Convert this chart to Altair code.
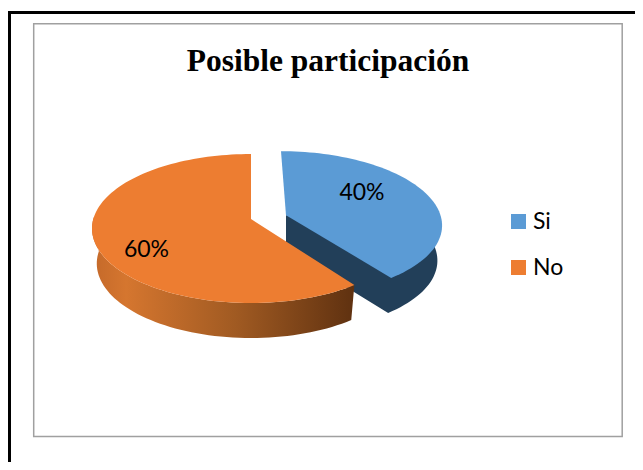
import math
import altair as alt
import pandas as pd

CATEGORIES = ["Si", "No"]
SHARES = [40, 60]
COLORS = ["#5B9BD5", "#ED7D31"]
TITLE = "Posible participación"

W, H = 627, 454
XS = alt.Scale(domain=[8, 8 + W], range=[0, W])
YS = alt.Scale(domain=[8 + H, 8], range=[H, 0])
PERSP = -0.1275
DEPTH = 35
BOTTOM_SCALE = 0.97
BOTTOM_SCALE_FRONT = 0.97


def project(theta, g, scale=1.0, drop=0.0):
    t = math.radians(theta)
    x0, y0 = math.sin(t), -math.cos(t)
    den = 1 + PERSP * y0
    xp = x0 * math.sqrt(1 - PERSP ** 2) / den
    yp = (y0 + PERSP) / den
    return (g["cx"] + g["rx"] * scale * xp + g["skew"] * yp,
            g["cy"] + g["ry"] * yp + drop)


def arc(start, end, g, scale=1.0, drop=0.0):
    n = max(2, int(abs(end - start) / 2))
    return [project(start + (end - start) * i / n, g, scale, drop) for i in range(n + 1)]


def frame(points):
    return pd.DataFrame({"x": [p[0] for p in points], "y": [p[1] for p in points],
                         "i": list(range(len(points)))})


split = 360 * SHARES[0] / sum(SHARES)
blue = dict(cx=286, cy=223.2, rx=156, ry=72, skew=5)
orange = dict(cx=251, cy=228.5, rx=159, ry=74.5, skew=0)
apex_b = (blue["cx"], project(0, blue)[1] + 64)
apex_o = (orange["cx"], 219)

top_b = frame([apex_b] + arc(0, split, blue)).assign(cat=CATEGORIES[0])
top_o = frame([apex_o] + arc(split, 360, orange)).assign(cat=CATEGORIES[1])
wall_b = frame([apex_b, (apex_b[0], apex_b[1] + DEPTH)]
               + arc(split, 88, blue, BOTTOM_SCALE, DEPTH)
               + arc(88, split, blue)[:1])
wall_o = frame(arc(split, 272, orange) + arc(272, split, orange, BOTTOM_SCALE_FRONT, DEPTH))


def poly(df, **mark):
    return alt.Chart(df).mark_line(strokeWidth=0, **mark).encode(
        x=alt.X("x:Q", scale=XS, axis=None),
        y=alt.Y("y:Q", scale=YS, axis=None),
        order="i:Q",
    )


wall_grad = alt.Gradient(
    gradient="linear", x1=0, x2=1, y1=0, y2=0,
    stops=[
        alt.GradientStop(offset=0, color="#C4692A"),
        alt.GradientStop(offset=0.13, color="#D5762F"),
        alt.GradientStop(offset=0.55, color="#A05A22"),
        alt.GradientStop(offset=1, color="#5F3110"),
    ],
)

back_wall = poly(wall_b, fill="#223F59")
front_wall = poly(wall_o, fill=wall_grad)

tops = alt.Chart(pd.concat([top_b, top_o])).mark_line(filled=True, strokeWidth=0).encode(
    x=alt.X("x:Q", scale=XS, axis=None),
    y=alt.Y("y:Q", scale=YS, axis=None),
    order="i:Q",
    color=alt.Color(
        "cat:N",
        scale=alt.Scale(domain=CATEGORIES, range=COLORS),
        legend=alt.Legend(
            title=None, orient="none", legendX=499, legendY=202, padding=0,
            symbolType="square", symbolSize=225, symbolStrokeWidth=0,
            labelFont="Lato", labelFontSize=23, labelColor="#000000",
            labelOffset=3, rowPadding=22, labelLimit=100,
        ),
    ),
)

labels = pd.DataFrame({
    "t": [f"{v}%" for v in SHARES],
    "x": [362, 146.5],
    "y": [193, 250],
})
label_text = alt.Chart(labels).mark_text(font="Lato", fontSize=23, color="#000000").encode(
    x=alt.X("x:Q", scale=XS, axis=None),
    y=alt.Y("y:Q", scale=YS, axis=None),
    text="t:N",
)

title = alt.Chart(pd.DataFrame({"t": [TITLE], "x": [328], "y": [62]})).mark_text(
    font="Liberation Serif", fontWeight="bold", fontSize=31.5, color="#000000"
).encode(
    x=alt.X("x:Q", scale=XS, axis=None),
    y=alt.Y("y:Q", scale=YS, axis=None),
    text="t:N",
)

gray = alt.Chart(pd.DataFrame({"a": [0]})).mark_rect(
    fill="#FFFFFF", stroke="#A0A0A0", strokeWidth=1.5
).encode(x=alt.value(25.7), x2=alt.value(614.2), y=alt.value(15.7), y2=alt.value(428.5))

black_top = alt.Chart(pd.DataFrame({"a": [0]})).mark_rule(color="#000000", strokeWidth=3).encode(
    x=alt.value(0), x2=alt.value(W), y=alt.value(4.5))
black_left = alt.Chart(pd.DataFrame({"a": [0]})).mark_rule(color="#000000", strokeWidth=3).encode(
    x=alt.value(1.5), y=alt.value(3), y2=alt.value(H))

chart = alt.layer(
    gray, black_top, black_left, back_wall, front_wall, tops, label_text, title
).properties(width=W, height=H, padding=0, autosize=alt.AutoSizeParams(type="none")
).configure_view(stroke=None)

chart.save("out.html", embed_options={"renderer": "svg", "actions": False})
